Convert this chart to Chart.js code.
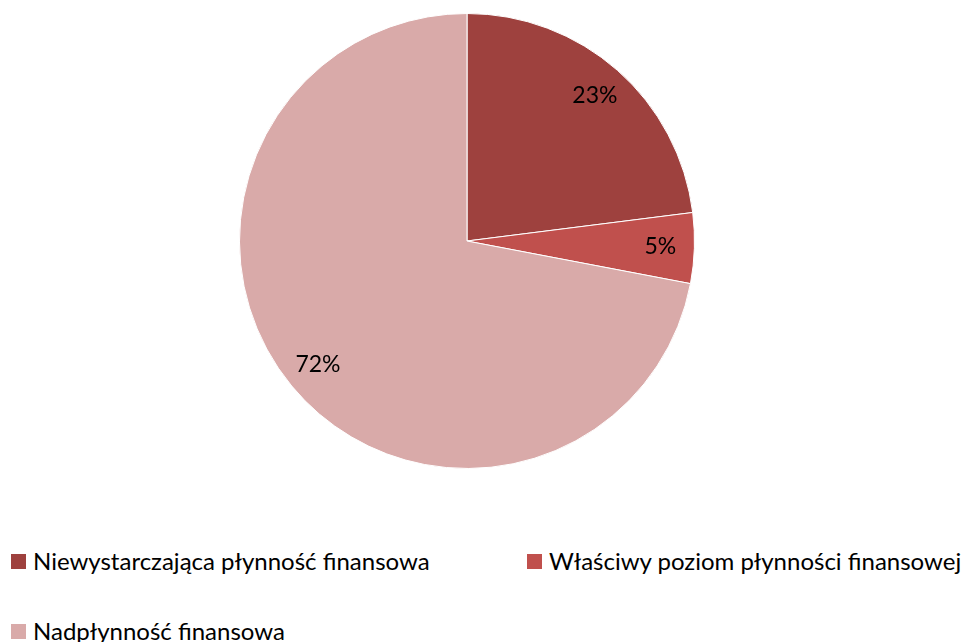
<!DOCTYPE html>
<html>
<head>
<meta charset="utf-8">
<script src="https://cdn.jsdelivr.net/npm/chart.js@4/dist/chart.umd.min.js"></script>
<style>
  html, body { margin: 0; padding: 0; background: #fff; }
  #wrap { position: relative; width: 971px; height: 642px; font-family: Lato, "Open Sans", sans-serif; }
  #chart-box { position: absolute; left: 0; top: 0; width: 971px; height: 470px; }
  .legend-item { position: absolute; display: flex; align-items: center; font-size: 24px; line-height: 24px; color: #000; white-space: nowrap; }
  .legend-swatch { width: 15px; height: 15px; margin-right: 7px; }
</style>
</head>
<body>
<div id="wrap">
  <div id="chart-box"><canvas id="pie"></canvas></div>
  <div id="legend"></div>
</div>
<script>
const categories = ['Niewystarczająca płynność finansowa', 'Właściwy poziom płynności finansowej', 'Nadpłynność finansowa'];
const shares = [23, 5, 72];
const sliceColors = ['#9E413E', '#C0504D', '#D9AAA9'];

// legend slots (left, top) - mimics the two-row layout of the original
const legendSlots = [[11, 549], [527, 549], [11, 619]];

const pctLabels = {
  id: 'pctLabels',
  afterDatasetsDraw(chart) {
    const ctx = chart.ctx;
    const meta = chart.getDatasetMeta(0);
    ctx.save();
    ctx.font = '23px Lato, "Open Sans", sans-serif';
    ctx.fillStyle = '#000';
    ctx.textAlign = 'center';
    ctx.textBaseline = 'middle';
    meta.data.forEach((arc, i) => {
      const p = arc.getProps(['x', 'y', 'startAngle', 'endAngle', 'outerRadius']);
      const mid = (p.startAngle + p.endAngle) / 2;
      const r = p.outerRadius * 0.85;
      ctx.fillText(shares[i] + '%', p.x + Math.cos(mid) * r, p.y + Math.sin(mid) * r);
    });
    ctx.restore();
  }
};

new Chart(document.getElementById('pie'), {
  type: 'pie',
  data: {
    labels: categories,
    datasets: [{
      data: shares,
      backgroundColor: sliceColors,
      borderColor: '#ffffff',
      borderWidth: 1,
    }],
  },
  options: {
    responsive: true,
    maintainAspectRatio: false,
    animation: false,
    layout: { padding: { top: 13, bottom: 1, left: 0, right: 37 } },
    plugins: {
      legend: { display: false },
      tooltip: { enabled: false },
    },
  },
  plugins: [pctLabels],
});

const legend = document.getElementById('legend');
legend.innerHTML = categories.map((name, i) => `
  <div class="legend-item" style="left:${legendSlots[i][0]}px;top:${legendSlots[i][1]}px">
    <span class="legend-swatch" style="background:${sliceColors[i]}"></span>${name}
  </div>`).join('');
</script>
</body>
</html>
